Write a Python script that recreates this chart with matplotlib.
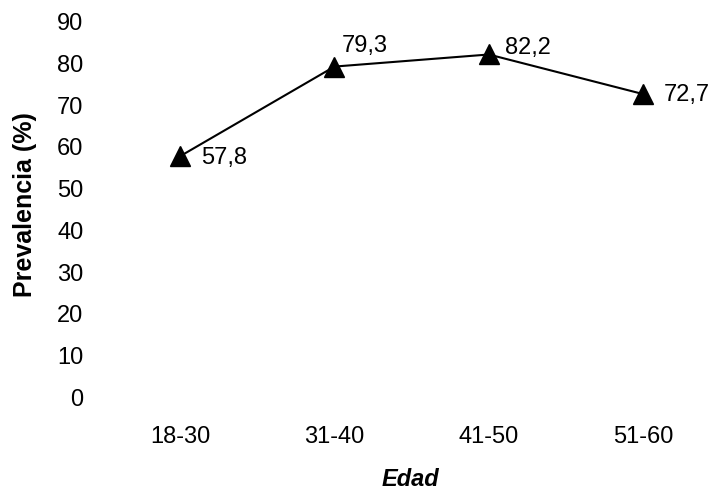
import matplotlib.pyplot as plt

plt.rcParams['font.family'] = ['Liberation Sans', 'DejaVu Sans']

# datos
edades = ["18-30", "31-40", "41-50", "51-60"]
prevalencia = [57.8, 79.3, 82.2, 72.7]
etiquetas = ["57,8", "79,3", "82,2", "72,7"]
yticks = list(range(0, 100, 10))

W, H = 717, 493
fs = 18
fig = plt.figure(figsize=(W / 100, H / 100), dpi=100)
ax = fig.add_axes([0.1437, 0.1947, 0.983 - 0.1437, 0.9554 - 0.1947])

x = list(range(len(edades)))
ax.plot(x, prevalencia, color="black", lw=1.5, marker="^", markersize=15,
        markerfacecolor="black", clip_on=False)

# offsets de las etiquetas (en puntos)
offs = [(15, -1), (5, 15), (12, 5), (15, -1)]
for xi, yi, txt, off in zip(x, prevalencia, etiquetas, offs):
    ax.annotate(txt, (xi, yi), xytext=off, textcoords="offset points",
                ha="left", va="center", fontsize=fs - 1)

ax.set_xlim(-0.5, 3.4)
ax.set_ylim(0, 90)
ax.set_xticks(x)
ax.set_xticklabels(edades)
ax.set_yticks(yticks)
ax.tick_params(axis="both", length=0, labelsize=fs - 1)
ax.tick_params(axis="y", pad=14)
ax.tick_params(axis="x", pad=21)
for s in ax.spines.values():
    s.set_visible(False)

# titulos de ejes
fig.text(25 / W, 1 - 205 / H, "Prevalencia (%)", rotation=90, ha="center",
         va="center", fontsize=fs, fontweight="bold")
fig.text(410 / W, 1 - 480 / H, "Edad", ha="center", va="center",
         fontsize=fs - 1, fontweight="bold", style="italic")

fig.savefig("out.png", dpi=100)
